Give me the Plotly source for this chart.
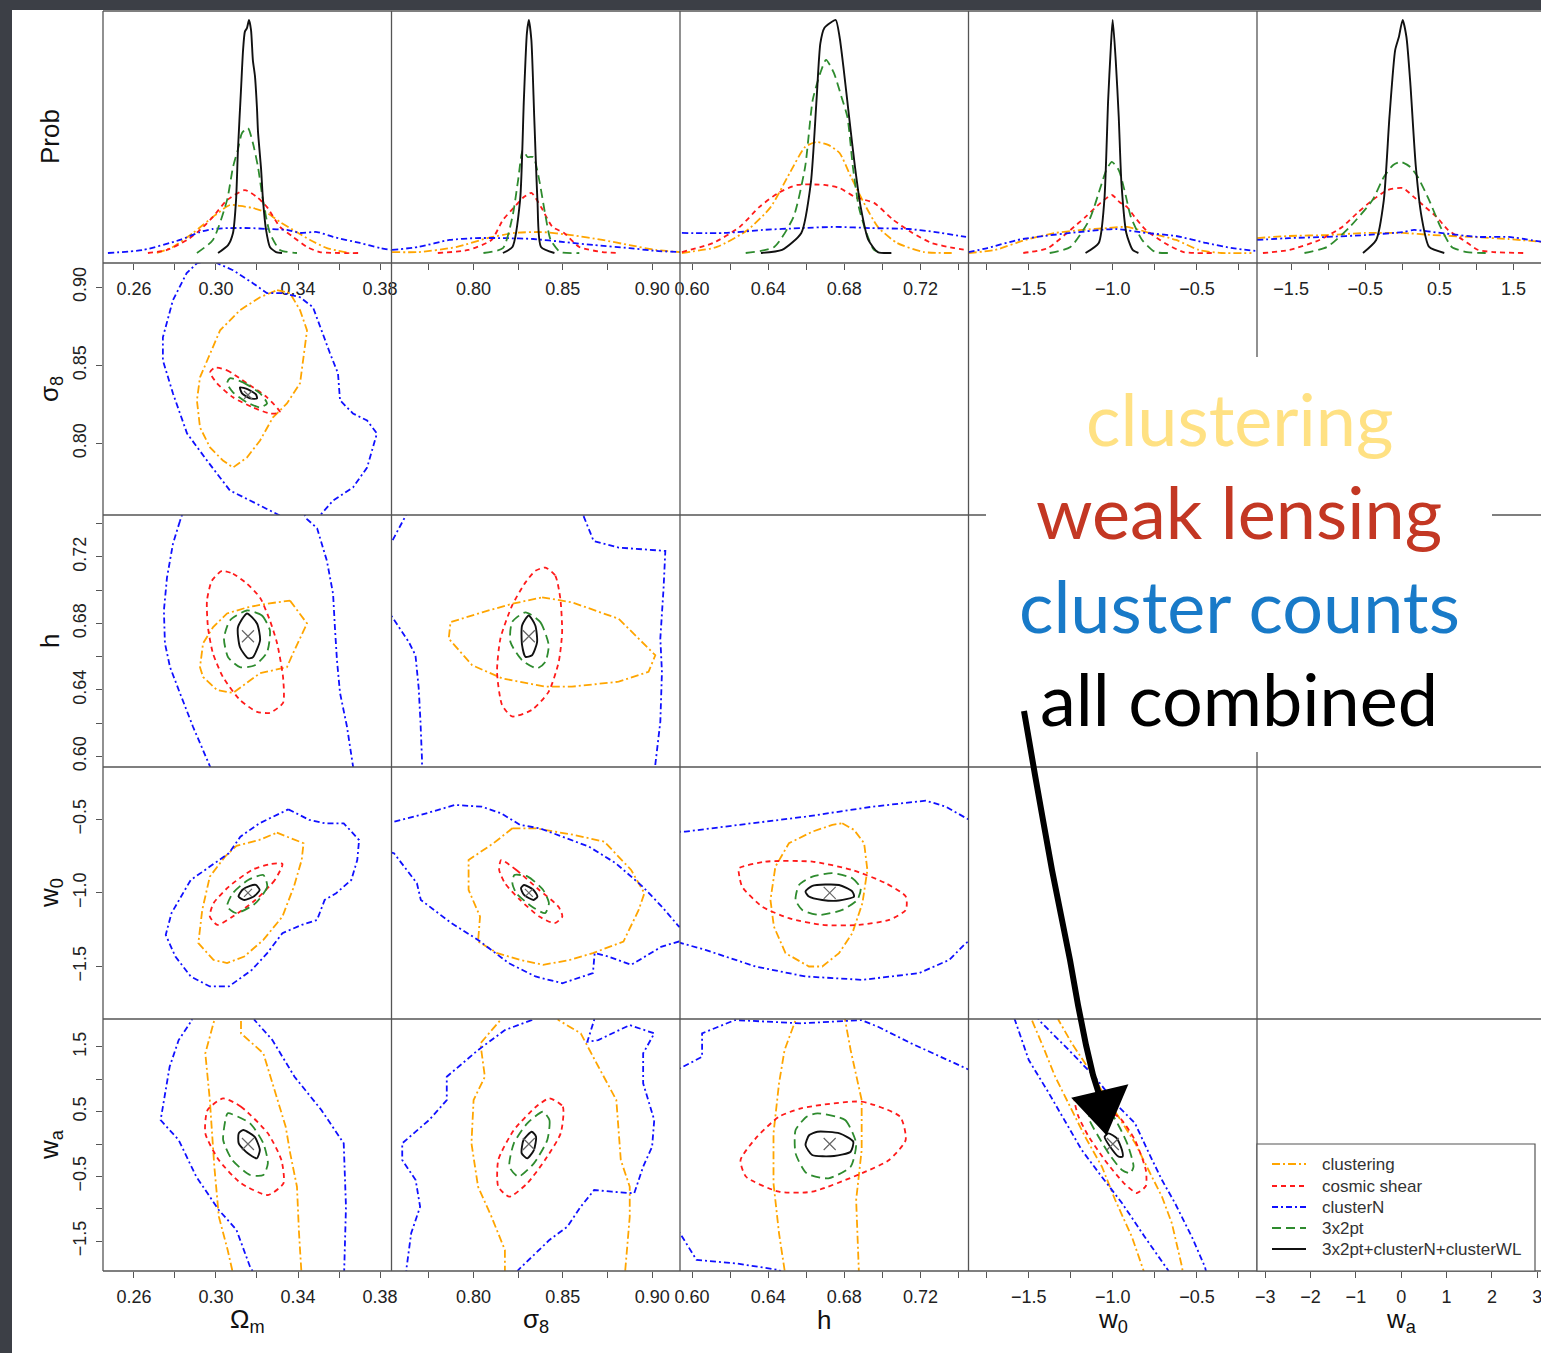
import plotly.graph_objects as go

# ---------------------------------------------------------------- data
SERIES_NAMES = ["clustering", "cosmic shear", "clusterN", "3x2pt", "3x2pt+clusterN+clusterWL"]
AXIS_TITLES = ["Ω<sub>m</sub>", "σ<sub>8</sub>", "h", "w<sub>0</sub>", "w<sub>a</sub>"]
ROW_TITLES = ["Prob", "σ<sub>8</sub>", "h", "w<sub>0</sub>", "w<sub>a</sub>"]
FIDUCIAL = [0.3156, 0.831, 0.6723, -1.0, 0.0]

PARAM_RANGES = [[0.2449, 0.3856], [0.7542, 0.9155], [0.5937, 0.7452], [-1.8585, -0.1428], [-1.96, 1.93]]
WA_WIDE_RANGE = [-3.18, 3.18]
PROB_RANGE = [-0.0429, 1.0386]

OM_TICKS = [0.26, 0.28, 0.30, 0.32, 0.34, 0.36, 0.38]
OM_LABELS = ["0.26", "", "0.30", "", "0.34", "", "0.38"]
S8_TICKS = [0.775, 0.80, 0.825, 0.85, 0.875, 0.90]
S8_LABELS = ["", "0.80", "", "0.85", "", "0.90"]
S8_ROW_TICKS = [0.80, 0.85, 0.90]
S8_ROW_LABELS = ["0.80", "0.85", "0.90"]
H_TICKS = [0.60, 0.62, 0.64, 0.66, 0.68, 0.70, 0.72, 0.74]
H_LABELS = ["0.60", "", "0.64", "", "0.68", "", "0.72", ""]
W0_TICKS = [-1.75, -1.5, -1.25, -1.0, -0.75, -0.5, -0.25]
W0_LABELS = ["", "−1.5", "", "−1.0", "", "−0.5", ""]
W0_ROW_TICKS = [-1.5, -1.0, -0.5]
W0_ROW_LABELS = ["−1.5", "−1.0", "−0.5"]
WA_TICKS = [-1.5, -1.0, -0.5, 0.0, 0.5, 1.0, 1.5]
WA_LABELS = ["−1.5", "", "−0.5", "", "0.5", "", "1.5"]
WA_WIDE_TICKS = [-3, -2, -1, 0, 1, 2, 3]
WA_WIDE_LABELS = ["−3", "−2", "−1", "0", "1", "2", "3"]

# ---- 1D marginals (parameter value, relative probability)
P_OM_CLUS = [(0.2712, 0), (0.2790, 0.026), (0.2888, 0.086), (0.2985, 0.155), (0.3068, 0.206), (0.3117, 0.202), (0.3180, 0.193), (0.3249, 0.172), (0.3312, 0.133), (0.3376, 0.099), (0.3459, 0.056), (0.3541, 0.021), (0.3654, 0)]
P_OM_SHEAR = [(0.2668, 0), (0.2761, 0.013), (0.2859, 0.056), (0.2922, 0.099), (0.2985, 0.155), (0.3054, 0.227), (0.3141, 0.270), (0.3200, 0.240), (0.3249, 0.197), (0.3312, 0.112), (0.3376, 0.069), (0.3444, 0.026), (0.3507, 0.004), (0.3702, 0)]
P_OM_CN = [(0.2473, 0), (0.2644, 0.013), (0.2824, 0.056), (0.2922, 0.090), (0.2985, 0.103), (0.3068, 0.107), (0.3166, 0.107), (0.3249, 0.103), (0.3346, 0.099), (0.3410, 0.086), (0.3493, 0.090), (0.3571, 0.069), (0.3702, 0.043), (0.3800, 0.021), (0.3854, 0.013)]
P_OM_3X2 = [(0.2907, 0), (0.2985, 0.056), (0.3054, 0.227), (0.3083, 0.369), (0.3107, 0.444), (0.3127, 0.515), (0.3156, 0.536), (0.3180, 0.472), (0.3205, 0.369), (0.3229, 0.227), (0.3263, 0.086), (0.3312, 0.013), (0.3395, 0)]
P_OM_ALL = [(0.3010, 0), (0.3059, 0.034), (0.3083, 0.086), (0.3098, 0.228), (0.3107, 0.44), (0.3122, 0.70), (0.3132, 0.87), (0.3141, 0.95), (0.3151, 0.965), (0.3161, 1.0), (0.3171, 0.957), (0.3180, 0.827), (0.3190, 0.76), (0.3200, 0.62), (0.3205, 0.52), (0.3220, 0.36), (0.3229, 0.23), (0.3244, 0.10), (0.3263, 0.026), (0.3293, 0.004), (0.3322, 0)]

P_S8_CLUS = [(0.7545, 0.004), (0.7693, 0.004), (0.7908, 0.026), (0.8078, 0.064), (0.8229, 0.086), (0.8378, 0.090), (0.8547, 0.077), (0.8721, 0.056), (0.8872, 0.034), (0.9020, 0.013), (0.9156, 0.004)]
P_S8_SHEAR = [(0.7801, 0), (0.7972, 0.013), (0.8101, 0.056), (0.8165, 0.142), (0.8229, 0.197), (0.8282, 0.240), (0.8324, 0.258), (0.8378, 0.197), (0.8442, 0.112), (0.8507, 0.086), (0.8592, 0.026), (0.8721, 0.004), (0.8804, 0)]
P_S8_CN = [(0.7545, 0.013), (0.7693, 0.026), (0.7866, 0.056), (0.8015, 0.064), (0.8165, 0.064), (0.8335, 0.060), (0.8507, 0.047), (0.8676, 0.034), (0.8872, 0.021), (0.9020, 0.009), (0.9156, 0.004)]
P_S8_3X2 = [(0.8056, 0), (0.8165, 0.021), (0.8218, 0.155), (0.8250, 0.313), (0.8276, 0.442), (0.8303, 0.412), (0.8335, 0.412), (0.8368, 0.313), (0.8400, 0.172), (0.8432, 0.056), (0.8486, 0.004), (0.8592, 0)]
P_S8_ALL = [(0.8165, 0), (0.8218, 0.026), (0.8261, 0.227), (0.8282, 0.657), (0.8299, 0.944), (0.8310, 1.0), (0.8324, 0.914), (0.8340, 0.584), (0.8358, 0.227), (0.8378, 0.026), (0.8453, 0)]

P_H_CLUS = [(0.5947, 0), (0.6131, 0.026), (0.6292, 0.099), (0.6413, 0.197), (0.6513, 0.343), (0.6594, 0.455), (0.6654, 0.476), (0.6715, 0.464), (0.6775, 0.429), (0.6835, 0.326), (0.6895, 0.227), (0.6976, 0.112), (0.7077, 0.043), (0.7218, 0.004), (0.7379, 0)]
P_H_SHEAR = [(0.5947, 0.004), (0.6111, 0.043), (0.6251, 0.112), (0.6353, 0.197), (0.6453, 0.258), (0.6553, 0.292), (0.6695, 0.292), (0.6775, 0.279), (0.6856, 0.240), (0.6956, 0.215), (0.7057, 0.142), (0.7158, 0.086), (0.7258, 0.043), (0.7379, 0.021), (0.7439, 0.013)]
P_H_CN = [(0.5947, 0.086), (0.6171, 0.086), (0.6372, 0.099), (0.6574, 0.107), (0.6755, 0.112), (0.6937, 0.107), (0.7137, 0.103), (0.7279, 0.090), (0.7439, 0.069)]
P_H_3X2 = [(0.6282, 0), (0.6432, 0.026), (0.6533, 0.155), (0.6594, 0.369), (0.6634, 0.657), (0.6674, 0.773), (0.6704, 0.829), (0.6745, 0.773), (0.6785, 0.67), (0.6816, 0.584), (0.6845, 0.369), (0.6876, 0.197), (0.6916, 0.086), (0.6956, 0.013), (0.6996, 0)]
P_H_ALL = [(0.6362, 0), (0.6473, 0.013), (0.6574, 0.086), (0.6624, 0.30), (0.6654, 0.657), (0.6674, 0.90), (0.6695, 0.966), (0.6725, 0.987), (0.6755, 1.0), (0.6775, 0.927), (0.6795, 0.80), (0.6825, 0.584), (0.6856, 0.369), (0.6886, 0.197), (0.6926, 0.056), (0.6976, 0.004), (0.7047, 0)]

P_W0_CLUS = [(-1.8583, 0), (-1.701, 0.013), (-1.521, 0.056), (-1.342, 0.086), (-1.185, 0.099), (-1.028, 0.107), (-0.915, 0.112), (-0.781, 0.086), (-0.624, 0.056), (-0.489, 0.013), (-0.355, 0), (-0.176, 0)]
P_W0_SHEAR = [(-1.5327, 0), (-1.3869, 0.021), (-1.2524, 0.099), (-1.1625, 0.155), (-1.073, 0.215), (-1.006, 0.249), (-0.961, 0.219), (-0.915, 0.197), (-0.871, 0.155), (-0.804, 0.099), (-0.692, 0.043), (-0.579, 0.004), (-0.400, 0)]
P_W0_CN = [(-1.8583, 0.004), (-1.746, 0.021), (-1.567, 0.056), (-1.410, 0.073), (-1.252, 0.086), (-1.073, 0.099), (-0.983, 0.103), (-0.804, 0.086), (-0.624, 0.073), (-0.445, 0.043), (-0.288, 0.021), (-0.153, 0.009)]
P_W0_3X2 = [(-1.3756, 0), (-1.2524, 0.026), (-1.140, 0.142), (-1.073, 0.283), (-1.039, 0.356), (-1.006, 0.391), (-0.965, 0.356), (-0.927, 0.258), (-0.893, 0.155), (-0.826, 0.056), (-0.748, 0.004), (-0.669, 0)]
P_W0_ALL = [(-1.1625, 0), (-1.0839, 0.043), (-1.0506, 0.227), (-1.028, 0.657), (-1.012, 0.884), (-1.001, 1.0), (-0.983, 0.828), (-0.965, 0.584), (-0.949, 0.30), (-0.920, 0.086), (-0.882, 0.013), (-0.848, 0)]

P_WA_CLUS = [(-1.96, 0.064), (-1.524, 0.073), (-1.015, 0.077), (-0.505, 0.086), (0.004, 0.086), (0.412, 0.077), (0.922, 0.069), (1.431, 0.060), (1.90, 0.047)]
P_WA_SHEAR = [(-1.880, 0), (-1.524, 0.013), (-1.116, 0.056), (-0.811, 0.112), (-0.607, 0.172), (-0.403, 0.227), (-0.200, 0.270), (0.004, 0.279), (0.157, 0.240), (0.309, 0.197), (0.462, 0.155), (0.615, 0.099), (0.819, 0.056), (1.023, 0.013), (1.227, 0.004), (1.635, 0)]
P_WA_CN = [(-1.96, 0.056), (-1.524, 0.064), (-1.015, 0.069), (-0.505, 0.077), (0.004, 0.090), (0.157, 0.099), (0.514, 0.086), (1.023, 0.069), (1.431, 0.069), (1.90, 0.047)]
P_WA_3X2 = [(-1.320, 0), (-1.015, 0.026), (-0.709, 0.112), (-0.403, 0.227), (-0.250, 0.326), (-0.123, 0.378), (-0.022, 0.391), (0.107, 0.369), (0.208, 0.326), (0.361, 0.227), (0.514, 0.112), (0.666, 0.026), (0.870, 0.004), (1.124, 0)]
P_WA_ALL = [(-0.531, 0), (-0.353, 0.056), (-0.250, 0.227), (-0.174, 0.584), (-0.097, 0.871), (-0.047, 0.927), (0.004, 1.0), (0.055, 0.927), (0.107, 0.73), (0.182, 0.369), (0.259, 0.155), (0.361, 0.026), (0.565, 0)]

# ---- 2D contours (x parameter, y parameter)
C_OM_S8_CLUS = [(0.3298, 0.8981), (0.3361, 0.8962), (0.3410, 0.8853), (0.3444, 0.8724), (0.3410, 0.8385), (0.3346, 0.8256), (0.3278, 0.8167), (0.3215, 0.8019), (0.3151, 0.7910), (0.3083, 0.7846), (0.3034, 0.7891), (0.2971, 0.7974), (0.2922, 0.8103), (0.2907, 0.8276), (0.2922, 0.8423), (0.2971, 0.8577), (0.3020, 0.8724), (0.3117, 0.8853), (0.3215, 0.8936)]
C_OM_S8_SHEAR = [(0.2995, 0.8485), (0.3054, 0.8468), (0.3151, 0.8385), (0.3249, 0.8295), (0.3312, 0.8199), (0.3263, 0.8192), (0.3180, 0.8231), (0.3083, 0.8295), (0.3005, 0.8385), (0.2971, 0.8455)]
C_OM_S8_CN = [(0.2990, 0.9186), (0.2906, 0.9152), (0.2857, 0.9090), (0.2790, 0.8917), (0.2741, 0.8679), (0.2741, 0.8532), (0.2790, 0.8321), (0.2859, 0.8064), (0.2956, 0.7891), (0.3068, 0.7699), (0.3166, 0.7635), (0.3278, 0.7558), (0.3361, 0.7506), (0.3483, 0.7506), (0.3507, 0.7538), (0.3571, 0.7635), (0.3668, 0.7718), (0.3737, 0.7846), (0.3785, 0.8064), (0.3737, 0.8147), (0.3668, 0.8192), (0.3605, 0.8276), (0.3595, 0.8449), (0.3556, 0.8577), (0.3507, 0.8744), (0.3473, 0.8872), (0.3410, 0.8936), (0.3327, 0.8962), (0.3249, 0.8962), (0.3180, 0.9026), (0.3083, 0.9109), (0.3005, 0.9154)]
C_OM_S8_3X2 = [(0.3068, 0.8417), (0.3132, 0.8391), (0.3215, 0.8321), (0.3249, 0.8256), (0.3215, 0.8231), (0.3151, 0.8263), (0.3083, 0.8327), (0.3054, 0.8385)]
C_OM_S8_ALL = [(0.3117, 0.8359), (0.3156, 0.8346), (0.3195, 0.8314), (0.3200, 0.8288), (0.3166, 0.8288), (0.3127, 0.8321)]

C_OM_H_CLUS = [(0.3361, 0.6937), (0.3444, 0.6800), (0.3376, 0.6621), (0.3346, 0.6537), (0.3215, 0.6501), (0.3083, 0.6382), (0.3005, 0.6400), (0.2937, 0.6478), (0.2922, 0.6537), (0.2937, 0.6681), (0.2985, 0.6776), (0.3054, 0.6860), (0.3151, 0.6896), (0.3249, 0.6919)]
C_OM_H_SHEAR = [(0.3029, 0.7116), (0.3083, 0.7099), (0.3151, 0.7039), (0.3215, 0.6955), (0.3263, 0.6818), (0.3298, 0.6681), (0.3327, 0.6478), (0.3327, 0.6322), (0.3263, 0.6263), (0.3200, 0.6269), (0.3117, 0.6340), (0.3034, 0.6478), (0.2985, 0.6621), (0.2961, 0.6776), (0.2956, 0.6937), (0.2980, 0.7057)]
C_OM_H_CN = [(0.2824, 0.7415), (0.2790, 0.7278), (0.2761, 0.7075), (0.2746, 0.6878), (0.2751, 0.6681), (0.2776, 0.6537), (0.2824, 0.6382), (0.2888, 0.6179), (0.2971, 0.5940), (0.2995, 0.5863), (0.3678, 0.5863), (0.3668, 0.5940), (0.3639, 0.6179), (0.3605, 0.6382), (0.3590, 0.6579), (0.3580, 0.6776), (0.3571, 0.6979), (0.3541, 0.7176), (0.3493, 0.7373), (0.3444, 0.7427), (0.3410, 0.7505), (0.2849, 0.7505)]
C_OM_H_3X2 = [(0.3151, 0.6878), (0.3224, 0.6848), (0.3263, 0.6758), (0.3249, 0.6627), (0.3190, 0.6549), (0.3117, 0.6537), (0.3059, 0.6597), (0.3039, 0.6710), (0.3068, 0.6818)]
C_OM_H_ALL = [(0.3151, 0.6860), (0.3200, 0.6800), (0.3215, 0.6699), (0.3180, 0.6597), (0.3156, 0.6591), (0.3117, 0.6657), (0.3107, 0.6776)]

C_S8_H_CLUS = [(0.8384, 0.6957), (0.8551, 0.6927), (0.8812, 0.6828), (0.9017, 0.6609), (0.8979, 0.6509), (0.8812, 0.6450), (0.8551, 0.6420), (0.8402, 0.6420), (0.8160, 0.6470), (0.7993, 0.6549), (0.7862, 0.6709), (0.7872, 0.6808), (0.8049, 0.6867), (0.8216, 0.6918)]
C_S8_H_SHEAR = [(0.8402, 0.7136), (0.8458, 0.7087), (0.8486, 0.6949), (0.8496, 0.6748), (0.8477, 0.6569), (0.8421, 0.6390), (0.8328, 0.6281), (0.8216, 0.6241), (0.8160, 0.6310), (0.8132, 0.6509), (0.8151, 0.6710), (0.8216, 0.6907), (0.8291, 0.7047), (0.8346, 0.7116)]
C_S8_H_CN = [(0.8616, 0.7445), (0.8672, 0.7296), (0.8812, 0.7256), (0.9073, 0.7236), (0.9063, 0.7009), (0.9045, 0.6710), (0.9054, 0.6507), (0.9045, 0.6209), (0.9017, 0.5952), (0.9017, 0.5803), (0.7709, 0.5803), (0.7713, 0.5970), (0.7704, 0.6209), (0.7694, 0.6412), (0.7676, 0.6609), (0.7639, 0.6688), (0.7546, 0.6838), (0.7480, 0.6937), (0.7480, 0.7266), (0.7546, 0.7296), (0.7620, 0.7445), (0.7648, 0.7534), (0.8615, 0.7534)]
C_S8_H_3X2 = [(0.8291, 0.6867), (0.8374, 0.6808), (0.8421, 0.6669), (0.8402, 0.6569), (0.8356, 0.6530), (0.8272, 0.6579), (0.8207, 0.6688), (0.8216, 0.6808)]
C_S8_H_ALL = [(0.8309, 0.6848), (0.8346, 0.6788), (0.8356, 0.6688), (0.8328, 0.6609), (0.8291, 0.6599), (0.8272, 0.6669), (0.8272, 0.6788)]

C_OM_W0_CLUS = [(0.3297, -0.590), (0.3427, -0.662), (0.3418, -0.776), (0.3380, -0.957), (0.3324, -1.161), (0.3231, -1.320), (0.3138, -1.433), (0.3054, -1.478), (0.2988, -1.456), (0.2914, -1.342), (0.2933, -1.116), (0.2970, -0.889), (0.3044, -0.753), (0.3100, -0.680), (0.3212, -0.639)]
C_OM_W0_SHEAR = [(0.3324, -0.803), (0.3287, -0.912), (0.3193, -1.048), (0.3082, -1.161), (0.3007, -1.218), (0.2970, -1.161), (0.2988, -1.070), (0.3063, -0.957), (0.3175, -0.844), (0.3268, -0.803)]
C_OM_W0_CN = [(0.3353, -0.431), (0.3455, -0.503), (0.3530, -0.526), (0.3623, -0.526), (0.3698, -0.640), (0.3689, -0.776), (0.3660, -0.912), (0.3586, -1.002), (0.3530, -1.048), (0.3493, -1.184), (0.3418, -1.218), (0.3324, -1.274), (0.3250, -1.410), (0.3175, -1.524), (0.3063, -1.637), (0.2970, -1.637), (0.2877, -1.569), (0.2802, -1.433), (0.2755, -1.286), (0.2783, -1.138), (0.2858, -0.957), (0.2877, -0.912), (0.2970, -0.821), (0.3063, -0.730), (0.3119, -0.617), (0.3212, -0.526)]
C_OM_W0_3X2 = [(0.3231, -0.878), (0.3250, -0.957), (0.3193, -1.070), (0.3100, -1.138), (0.3054, -1.093), (0.3082, -1.002), (0.3157, -0.912)]
C_OM_W0_ALL = [(0.3194, -0.946), (0.3213, -0.980), (0.3184, -1.025), (0.3138, -1.048), (0.3110, -1.025), (0.3128, -0.980), (0.3166, -0.952)]

C_S8_W0_CLUS = [(0.8218, -0.560), (0.8347, -0.560), (0.8561, -0.605), (0.8732, -0.651), (0.8882, -0.844), (0.8956, -1.002), (0.8924, -1.116), (0.8839, -1.331), (0.8668, -1.410), (0.8540, -1.456), (0.8390, -1.490), (0.8261, -1.456), (0.8133, -1.410), (0.8026, -1.331), (0.8037, -1.161), (0.7973, -0.980), (0.7973, -0.776), (0.8112, -0.662)]
C_S8_W0_SHEAR = [(0.8155, -0.776), (0.8240, -0.844), (0.8368, -0.980), (0.8475, -1.093), (0.8497, -1.161), (0.8454, -1.206), (0.8368, -1.161), (0.8261, -1.048), (0.8176, -0.934), (0.8144, -0.844)]
C_S8_W0_CN = [(0.7480, -0.517), (0.7556, -0.515), (0.7706, -0.469), (0.7898, -0.401), (0.8047, -0.413), (0.8155, -0.458), (0.8261, -0.537), (0.8369, -0.560), (0.8497, -0.617), (0.8646, -0.685), (0.8796, -0.798), (0.8946, -0.957), (0.9053, -1.093), (0.9149, -1.229), (0.9212, -1.224), (0.9212, -1.333), (0.9149, -1.331), (0.9053, -1.365), (0.8882, -1.490), (0.8753, -1.433), (0.8678, -1.410), (0.8668, -1.546), (0.8497, -1.615), (0.8347, -1.569), (0.8197, -1.478), (0.8026, -1.320), (0.7877, -1.206), (0.7706, -1.048), (0.7684, -0.934), (0.7556, -0.730), (0.7480, -0.707)]
C_S8_W0_3X2 = [(0.8229, -0.878), (0.8304, -0.889), (0.8390, -0.980), (0.8422, -1.070), (0.8401, -1.138), (0.8326, -1.093), (0.8240, -1.002), (0.8218, -0.934)]
C_S8_W0_ALL = [(0.8283, -0.946), (0.8336, -0.980), (0.8358, -1.025), (0.8336, -1.048), (0.8283, -1.014), (0.8266, -0.968)]

C_H_W0_CLUS = [(0.6789, -0.526), (0.6851, -0.571), (0.6904, -0.662), (0.6921, -0.844), (0.6895, -1.070), (0.6842, -1.274), (0.6772, -1.410), (0.6684, -1.501), (0.6614, -1.501), (0.6491, -1.410), (0.6430, -1.229), (0.6412, -1.048), (0.6438, -0.821), (0.6509, -0.662), (0.6632, -0.583), (0.6737, -0.537)]
C_H_W0_SHEAR = [(0.6246, -0.832), (0.6386, -0.787), (0.6632, -0.787), (0.6842, -0.844), (0.7017, -0.934), (0.7123, -1.025), (0.7123, -1.116), (0.7035, -1.184), (0.6877, -1.218), (0.6684, -1.218), (0.6509, -1.172), (0.6368, -1.093), (0.6263, -0.957), (0.6246, -0.866)]
C_H_W0_CN = [(0.5884, -0.585), (0.5965, -0.583), (0.6246, -0.537), (0.6596, -0.481), (0.6947, -0.413), (0.7228, -0.372), (0.7333, -0.413), (0.7456, -0.503), (0.7516, -0.537), (0.7516, -1.286), (0.7438, -1.342), (0.7351, -1.456), (0.7193, -1.546), (0.6895, -1.592), (0.6596, -1.569), (0.6333, -1.501), (0.6070, -1.388), (0.5947, -1.340), (0.5884, -1.320)]
C_H_W0_3X2 = [(0.6737, -0.866), (0.6842, -0.900), (0.6886, -0.968), (0.6868, -1.048), (0.6789, -1.116), (0.6667, -1.150), (0.6579, -1.116), (0.6544, -1.048), (0.6562, -0.946), (0.6632, -0.889)]
C_H_W0_ALL = [(0.6632, -0.952), (0.6772, -0.946), (0.6842, -0.991), (0.6851, -1.025), (0.6772, -1.052), (0.6684, -1.048), (0.6614, -1.025), (0.6596, -0.991)]

C_OM_WA_CLUS = [(0.2992, 2.068), (0.2992, 1.914), (0.2948, 1.400), (0.2970, 0.679), (0.2992, -0.350), (0.3014, -1.122), (0.3057, -1.636), (0.3079, -1.944), (0.3078, -2.099), (0.3415, -2.099), (0.3416, -1.944), (0.3405, -1.378), (0.3395, -0.659), (0.3362, -0.144), (0.3340, 0.267), (0.3275, 0.937), (0.3231, 1.400), (0.3122, 1.708), (0.3122, 1.914), (0.3122, 2.068)]
C_OM_WA_SHEAR = [(0.3035, 0.705), (0.3122, 0.576), (0.3253, 0.165), (0.3319, -0.247), (0.3329, -0.606), (0.3253, -0.787), (0.3122, -0.606), (0.3014, -0.247), (0.2948, 0.165), (0.2959, 0.525)]
C_OM_WA_CN = [(0.3166, -2.099), (0.3177, -1.955), (0.3166, -1.894), (0.3100, -1.327), (0.3014, -1.019), (0.2904, -0.505), (0.2818, 0.062), (0.2730, 0.370), (0.2774, 1.193), (0.2818, 1.605), (0.2883, 1.914), (0.2873, 2.068), (0.3195, 2.068), (0.3188, 1.914), (0.3275, 1.605), (0.3383, 1.039), (0.3514, 0.525), (0.3623, 0.011), (0.3634, -0.968), (0.3623, -1.944), (0.3624, -2.099)]
C_OM_WA_3X2 = [(0.3057, 0.474), (0.3166, 0.319), (0.3231, 0.011), (0.3253, -0.298), (0.3231, -0.478), (0.3166, -0.478), (0.3079, -0.247), (0.3035, 0.062), (0.3046, 0.370)]
C_OM_WA_ALL = [(0.3133, 0.216), (0.3188, 0.113), (0.3214, -0.093), (0.3199, -0.221), (0.3155, -0.144), (0.3111, 0.011), (0.3111, 0.165)]

C_S8_WA_CLUS = [(0.8151, 2.068), (0.8151, 1.914), (0.8039, 1.554), (0.8064, 1.039), (0.8001, 0.679), (0.7989, 0.011), (0.8026, -0.659), (0.8101, -1.122), (0.8176, -1.636), (0.8176, -1.944), (0.8176, -2.099), (0.8849, -2.099), (0.8849, -1.944), (0.8874, -1.122), (0.8874, -0.659), (0.8824, -0.247), (0.8812, 0.165), (0.8799, 0.679), (0.8699, 1.193), (0.8600, 1.708), (0.8475, 1.914), (0.8475, 2.068)]
C_S8_WA_SHEAR = [(0.8425, 0.705), (0.8500, 0.576), (0.8488, 0.165), (0.8400, -0.247), (0.8301, -0.606), (0.8201, -0.813), (0.8139, -0.659), (0.8139, -0.247), (0.8226, 0.216), (0.8350, 0.576)]
C_S8_WA_CN = [(0.8676, 2.068), (0.8675, 1.914), (0.8637, 1.579), (0.8698, 1.605), (0.8874, 1.836), (0.9011, 1.708), (0.8949, 1.400), (0.8949, 0.937), (0.9011, 0.370), (0.8999, -0.042), (0.8949, -0.350), (0.8899, -0.761), (0.8774, -0.736), (0.8675, -0.710), (0.8600, -0.968), (0.8525, -1.276), (0.8425, -1.481), (0.8251, -1.944), (0.8218, -2.099), (0.7620, -2.099), (0.7627, -1.894), (0.7652, -1.378), (0.7702, -0.968), (0.7677, -0.556), (0.7602, -0.247), (0.7602, 0.011), (0.7752, 0.370), (0.7851, 0.679), (0.7851, 1.039), (0.8026, 1.451), (0.8176, 1.759), (0.8326, 1.914), (0.8346, 2.068)]
C_S8_WA_3X2 = [(0.8388, 0.498), (0.8425, 0.370), (0.8413, 0.062), (0.8338, -0.298), (0.8251, -0.505), (0.8201, -0.350), (0.8226, 0.011), (0.8301, 0.319)]
C_S8_WA_ALL = [(0.8326, 0.190), (0.8350, 0.113), (0.8338, -0.093), (0.8301, -0.221), (0.8270, -0.144), (0.8280, 0.062)]

C_H_WA_CLUS = [(0.6544, 2.068), (0.6544, 1.914), (0.6486, 1.451), (0.6457, 0.937), (0.6428, 0.165), (0.6428, -0.606), (0.6457, -1.378), (0.6486, -1.944), (0.6486, -2.099), (0.6876, -2.099), (0.6876, -1.944), (0.6862, -0.864), (0.6891, -0.093), (0.6891, 0.679), (0.6833, 1.451), (0.6804, 1.914), (0.6804, 2.068)]
C_H_WA_SHEAR = [(0.6573, 0.551), (0.6891, 0.653), (0.7093, 0.421), (0.7122, 0.062), (0.7035, -0.247), (0.6891, -0.452), (0.6631, -0.736), (0.6457, -0.736), (0.6284, -0.505), (0.6255, -0.247), (0.6342, 0.113), (0.6457, 0.421)]
C_H_WA_CN = [(0.5884, 1.173), (0.5937, 1.168), (0.6053, 1.347), (0.6053, 1.708), (0.6226, 1.914), (0.6573, 1.863), (0.6889, 1.914), (0.6977, 1.810), (0.7151, 1.554), (0.7439, 1.168), (0.7516, 1.065), (0.7516, -2.099), (0.6516, -2.099), (0.6457, -1.944), (0.6226, -1.841), (0.6024, -1.790), (0.5937, -1.378), (0.5884, -1.173)]
C_H_WA_3X2 = [(0.6659, 0.474), (0.6804, 0.370), (0.6862, 0.011), (0.6833, -0.350), (0.6717, -0.529), (0.6602, -0.452), (0.6544, -0.144), (0.6544, 0.216), (0.6602, 0.421)]
C_H_WA_ALL = [(0.6659, 0.190), (0.6775, 0.165), (0.6847, 0.036), (0.6833, -0.119), (0.6746, -0.185), (0.6631, -0.170), (0.6596, -0.015), (0.6616, 0.139)]

C_W0_WA_CLUS = [(-1.500, 2.145), (-1.482, 1.914), (-1.423, 1.554), (-1.343, 1.039), (-1.264, 0.628), (-1.165, 0.113), (-1.065, -0.350), (-0.986, -0.864), (-0.887, -1.431), (-0.817, -1.944), (-0.798, -2.099), (-0.577, -2.099), (-0.589, -1.894), (-0.649, -1.224), (-0.708, -0.813), (-0.788, -0.401), (-0.867, 0.011), (-0.966, 0.421), (-1.046, 0.730), (-1.125, 1.091), (-1.244, 1.554), (-1.323, 1.914), (-1.345, 2.145)]
C_W0_WA_SHEAR = [(-1.226, 0.710), (-1.089, 0.602), (-0.958, 0.401), (-0.869, 0.062), (-0.804, -0.401), (-0.804, -0.648), (-0.857, -0.756), (-0.935, -0.602), (-1.048, -0.247), (-1.149, 0.139), (-1.208, 0.448)]
C_W0_WA_CN = [(-1.613, 2.145), (-1.583, 1.914), (-1.500, 1.296), (-1.381, 0.787), (-1.286, 0.370), (-1.185, -0.093), (-1.065, -0.509), (-0.946, -0.910), (-0.810, -1.435), (-0.673, -1.944), (-0.649, -2.099), (-0.435, -2.099), (-0.452, -1.898), (-0.530, -1.435), (-0.631, -0.910), (-0.708, -0.556), (-0.786, -0.139), (-0.869, 0.324), (-0.964, 0.571), (-1.107, 1.034), (-1.244, 1.404), (-1.381, 1.759), (-1.440, 1.914), (-1.470, 2.145)]
C_W0_WA_3X2 = [(-1.125, 0.494), (-1.018, 0.494), (-0.958, 0.247), (-0.911, -0.015), (-0.877, -0.350), (-0.897, -0.452), (-0.946, -0.401), (-1.018, -0.170), (-1.085, 0.113), (-1.143, 0.401)]
C_W0_WA_ALL = [(-1.026, 0.165), (-0.976, 0.088), (-0.946, -0.093), (-0.942, -0.196), (-0.966, -0.196), (-1.016, -0.042), (-1.049, 0.113)]

OVERLAY_LINES = ["clustering", "weak lensing", "cluster counts", "all combined"]

# ---------------------------------------------------------------- assembly
MARGINALS = [
    [P_OM_CLUS, P_OM_SHEAR, P_OM_CN, P_OM_3X2, P_OM_ALL],
    [P_S8_CLUS, P_S8_SHEAR, P_S8_CN, P_S8_3X2, P_S8_ALL],
    [P_H_CLUS, P_H_SHEAR, P_H_CN, P_H_3X2, P_H_ALL],
    [P_W0_CLUS, P_W0_SHEAR, P_W0_CN, P_W0_3X2, P_W0_ALL],
    [P_WA_CLUS, P_WA_SHEAR, P_WA_CN, P_WA_3X2, P_WA_ALL],
]
CONTOURS = {
    (1, 0): [C_OM_S8_CLUS, C_OM_S8_SHEAR, C_OM_S8_CN, C_OM_S8_3X2, C_OM_S8_ALL],
    (2, 0): [C_OM_H_CLUS, C_OM_H_SHEAR, C_OM_H_CN, C_OM_H_3X2, C_OM_H_ALL],
    (2, 1): [C_S8_H_CLUS, C_S8_H_SHEAR, C_S8_H_CN, C_S8_H_3X2, C_S8_H_ALL],
    (3, 0): [C_OM_W0_CLUS, C_OM_W0_SHEAR, C_OM_W0_CN, C_OM_W0_3X2, C_OM_W0_ALL],
    (3, 1): [C_S8_W0_CLUS, C_S8_W0_SHEAR, C_S8_W0_CN, C_S8_W0_3X2, C_S8_W0_ALL],
    (3, 2): [C_H_W0_CLUS, C_H_W0_SHEAR, C_H_W0_CN, C_H_W0_3X2, C_H_W0_ALL],
    (4, 0): [C_OM_WA_CLUS, C_OM_WA_SHEAR, C_OM_WA_CN, C_OM_WA_3X2, C_OM_WA_ALL],
    (4, 1): [C_S8_WA_CLUS, C_S8_WA_SHEAR, C_S8_WA_CN, C_S8_WA_3X2, C_S8_WA_ALL],
    (4, 2): [C_H_WA_CLUS, C_H_WA_SHEAR, C_H_WA_CN, C_H_WA_3X2, C_H_WA_ALL],
    (4, 3): [C_W0_WA_CLUS, C_W0_WA_SHEAR, C_W0_WA_CN, C_W0_WA_3X2, C_W0_WA_ALL],
}
COL_TICKS = [(OM_TICKS, OM_LABELS), (S8_TICKS, S8_LABELS), (H_TICKS, H_LABELS),
             (W0_TICKS, W0_LABELS), (WA_TICKS, WA_LABELS)]
ROW_TICKS = [None, (S8_ROW_TICKS, S8_ROW_LABELS), (H_TICKS, H_LABELS),
             (W0_ROW_TICKS, W0_ROW_LABELS), (WA_TICKS, WA_LABELS)]

# ---------------------------------------------------------------- style / layout
W, H = 1541, 1353
CX = [103, 391.5, 680, 968.5, 1257, 1545.5]
RY = [11, 263, 515, 767, 1019, 1271]
COLORS = ["#FFA500", "#FF1A1A", "#1010FF", "#2E8B2E", "#111111"]
DASHES = ["8px,3px,2px,3px", "5px,4px", "6px,3px,2px,3px", "9px,5px", "solid"]
WIDTHS = [1.8, 1.8, 1.8, 1.8, 1.9]
FONT = "Liberation Sans, Arial, sans-serif"
TICK_FONT = dict(family=FONT, size=18, color="#222")
FRAME = "#555555"
PAGE_BG = "#3c3f46"


def px(x, y):
    return x / W, 1 - y / H


fig = go.Figure()
axes_layout = {}
counter = [0]


def axis_dict(domain, rng, anchor, ticks, angle):
    d = dict(domain=domain, range=rng, anchor=anchor, showgrid=False, zeroline=False,
             showline=False, fixedrange=True, automargin=False)
    if ticks is not None:
        vals, labels = ticks
        d.update(tickmode="array", tickvals=vals, ticktext=labels, ticks="outside", ticklen=6,
                 tickwidth=1.2, tickcolor=FRAME, tickfont=TICK_FONT, tickangle=angle,
                 ticklabelstandoff=3, ticklabeloverflow="allow")
    else:
        d.update(showticklabels=False, ticks="")
    return d


def new_axes(col, row, xrange_full, yrange, xticks=None, yticks=None):
    counter[0] += 1
    n = counter[0]
    sfx = "" if n == 1 else str(n)
    x0, x1full = CX[col], CX[col + 1]
    x1 = min(x1full, W)
    frac = (x1 - x0) / (x1full - x0)
    lo, hi = xrange_full
    xr = [lo, lo + (hi - lo) * frac]
    xd = [x0 / W, x1 / W]
    yd = [1 - RY[row + 1] / H, 1 - RY[row] / H]
    axes_layout["xaxis" + sfx] = axis_dict(xd, xr, "y" + sfx, xticks, 0)
    axes_layout["yaxis" + sfx] = axis_dict(yd, yrange, "x" + sfx, yticks, -90)
    return "x" + sfx, "y" + sfx


def add_curve(pts, si, xa, ya, closed, smooth):
    if closed:
        pts = pts + [pts[0]]
    fig.add_trace(go.Scatter(
        x=[p[0] for p in pts], y=[p[1] for p in pts], mode="lines",
        line=dict(color=COLORS[si], width=WIDTHS[si], dash=DASHES[si],
                  shape="spline" if smooth else "linear", smoothing=0.6),
        xaxis=xa, yaxis=ya, showlegend=False, hoverinfo="skip"))


# diagonal (marginal) row
for c in range(5):
    xa, ya = new_axes(c, 0, PARAM_RANGES[c], PROB_RANGE, xticks=COL_TICKS[c])
    for si, pts in enumerate(MARGINALS[c]):
        add_curve(pts, si, xa, ya, False, True)

# lower-triangle contour panels
for (r, c), series in CONTOURS.items():
    xt = COL_TICKS[c] if r == 4 else None
    yt = ROW_TICKS[r] if c == 0 else None
    xa, ya = new_axes(c, r, PARAM_RANGES[c], PARAM_RANGES[r], xticks=xt, yticks=yt)
    for si, pts in enumerate(series):
        add_curve(pts, si, xa, ya, True, si in (1, 3, 4))
    small = (r, c) in [(1, 0), (3, 0), (3, 1)]
    fig.add_trace(go.Scatter(
        x=[FIDUCIAL[c]], y=[FIDUCIAL[r]], mode="markers",
        marker=dict(symbol="x-thin", size=8 if small else 12, line=dict(width=1.2, color="#666")),
        xaxis=xa, yaxis=ya, showlegend=False, hoverinfo="skip"))

# bottom-right wide w_a axis (legend panel)
xa, ya = new_axes(4, 4, WA_WIDE_RANGE, [0, 1], xticks=(WA_WIDE_TICKS, WA_WIDE_LABELS))
fig.add_trace(go.Scatter(x=[None], y=[None], mode="lines", xaxis=xa, yaxis=ya,
                         showlegend=False, hoverinfo="skip"))

shapes = []
# white page area
x0p, y1p = px(12, 10)
shapes.append(dict(type="rect", xref="paper", yref="paper", x0=x0p, x1=1, y0=0, y1=y1p,
                   fillcolor="white", line=dict(width=0), layer="below"))
# panel frame grid
for x in CX[:-1]:
    a = px(x, RY[0]); b = px(x, RY[-1])
    shapes.append(dict(type="line", xref="paper", yref="paper", x0=a[0], x1=b[0], y0=a[1], y1=b[1],
                       line=dict(color=FRAME, width=1.3)))
for y in RY:
    a = px(CX[0], y)
    shapes.append(dict(type="line", xref="paper", yref="paper", x0=a[0], x1=1, y0=a[1], y1=a[1],
                       line=dict(color=FRAME, width=1.3)))
# overlay text box
a = px(986, 357); b = px(1492, 752)
shapes.append(dict(type="rect", xref="paper", yref="paper", x0=a[0], x1=b[0], y0=b[1], y1=a[1],
                   fillcolor="white", line=dict(width=0)))
# legend box
a = px(1257, 1144); b = px(1535, 1271)
shapes.append(dict(type="rect", xref="paper", yref="paper", x0=a[0], x1=b[0], y0=b[1], y1=a[1],
                   fillcolor="white", line=dict(color=FRAME, width=1.2)))
LEG_Y = [1164, 1186, 1207, 1228, 1249]
annotations = []
for si, name in enumerate(SERIES_NAMES):
    a = px(1272, LEG_Y[si]); b = px(1306, LEG_Y[si])
    shapes.append(dict(type="line", xref="paper", yref="paper", x0=a[0], x1=b[0], y0=a[1], y1=b[1],
                       line=dict(color=COLORS[si], width=WIDTHS[si], dash=DASHES[si])))
    t = px(1320, LEG_Y[si])
    annotations.append(dict(xref="paper", yref="paper", x=t[0], y=t[1], xanchor="left",
                            yanchor="middle", text=name, showarrow=False,
                            font=dict(family=FONT, size=17, color="#333")))

# hand-drawn arrow
shaft = [(1024, 711), (1029, 740), (1035, 775), (1043, 820), (1052, 870), (1061, 915),
         (1070, 960), (1078, 1005), (1086, 1045), (1093, 1075), (1099, 1094)]
path = "M " + " L ".join("%.5f,%.5f" % px(*p) for p in shaft)
shapes.append(dict(type="path", xref="paper", yref="paper", path=path,
                   line=dict(color="black", width=6)))
head = [(1075, 1099), (1125, 1087), (1106, 1132)]
path = "M " + " L ".join("%.5f,%.5f" % px(*p) for p in head) + " Z"
shapes.append(dict(type="path", xref="paper", yref="paper", path=path,
                   fillcolor="black", line=dict(color="black", width=4)))

# axis titles
for r, t in enumerate(ROW_TITLES):
    p = px(50, (RY[r] + RY[r + 1]) / 2)
    annotations.append(dict(xref="paper", yref="paper", x=p[0], y=p[1], xanchor="center",
                            yanchor="middle", text=t, textangle=-90, showarrow=False,
                            font=dict(family=FONT, size=26, color="#111")))
for c, t in enumerate(AXIS_TITLES):
    p = px((CX[c] + CX[c + 1]) / 2, 1320)
    annotations.append(dict(xref="paper", yref="paper", x=p[0], y=p[1], xanchor="center",
                            yanchor="middle", text=t, showarrow=False,
                            font=dict(family=FONT, size=26, color="#111")))

# overlay text
OVERLAY_COLORS = ["#FFE183", "#C33723", "#187AC8", "#000000"]
OVERLAY_Y = [418, 511, 605, 698]
for i, t in enumerate(OVERLAY_LINES):
    p = px(1239, OVERLAY_Y[i])
    annotations.append(dict(xref="paper", yref="paper", x=p[0], y=p[1], xanchor="center",
                            yanchor="middle", text=t, showarrow=False,
                            font=dict(family="Lato, Open Sans, sans-serif", size=72,
                                      color=OVERLAY_COLORS[i])))

fig.update_layout(
    template="none",
    width=W, height=H, autosize=False, margin=dict(l=0, r=0, t=0, b=0, pad=0, autoexpand=False),
    paper_bgcolor=PAGE_BG, plot_bgcolor="white", showlegend=False,
    shapes=shapes, annotations=annotations, **axes_layout)

fig.write_html(
    "out.html",
    post_script=("document.documentElement.style.margin='0';"
                 "document.body.style.margin='0';"
                 "document.documentElement.style.overflow='hidden';"
                 "document.body.style.overflow='hidden';"
                 "document.body.style.background='" + PAGE_BG + "';"),
)
